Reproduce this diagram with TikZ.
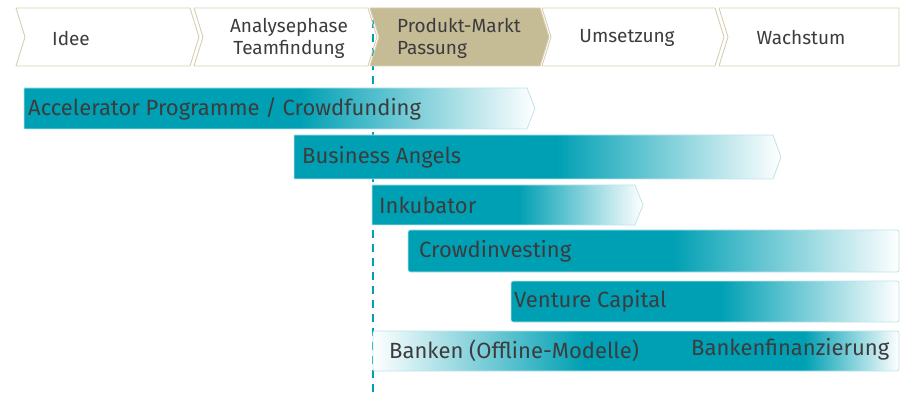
\documentclass[tikz,border=0pt]{standalone}
\usepackage{fontspec}
\setmainfont{Fira Sans}
\usetikzlibrary{positioning}
\definecolor{tealbar}{RGB}{0,160,180}
\definecolor{barrim}{RGB}{190,228,234}
\definecolor{phasefill}{RGB}{197,188,150}
\definecolor{phaserim}{RGB}{214,206,178}
\definecolor{textgray}{RGB}{60,60,62}
% teal first, then fading out to the right
\pgfdeclarehorizontalshading{fadeout}{100bp}{color(0bp)=(tealbar); color(52bp)=(tealbar); color(75bp)=(white); color(100bp)=(white)}
% bank row: in from white, teal, out to white
\pgfdeclarehorizontalshading{fadeinout}{100bp}{color(0bp)=(white); color(25bp)=(white); color(45bp)=(tealbar); color(66bp)=(tealbar); color(75bp)=(white); color(100bp)=(white)}

\begin{document}
\begin{tikzpicture}[x=1pt, y=-1pt]
	\tikzstyle{phase}=[draw=phaserim, line width=0.9pt, line join=round]
	\tikzstyle{phasetext}=[font=\fontsize{19}{22}\selectfont, text=textgray, align=center, inner sep=0pt]
	\tikzstyle{bartext}=[font=\fontsize{22}{26}\selectfont, text=textgray, anchor=west, inner sep=0pt]
	\tikzstyle{barline}=[draw=barrim, line width=0.8pt, line join=round]
	\tikzstyle{marker}=[draw=tealbar, line width=1.6pt, dash pattern=on 8pt off 6pt]
	\useasboundingbox (0,0) rectangle (902,398);
	% phase marker
	\coordinate (marktop) at (373,20);
	\coordinate (markbot) at (373,398);
	\draw [marker] (marktop) -- (markbot);
	% phases
	\foreach \l/\r in {16/190, 194/368, 542/715}
		\draw [phase] (\l,8) -- (\r,8) -- (\r+9,37) -- (\r,66) -- (\l,66) -- (\l+9,37) -- cycle;
	\draw [phase, fill=phasefill] (370,8) -- (540,8) -- (549,37) -- (540,66) -- (370,66) -- (379,37) -- cycle;
	\draw [phase] (719,8) -- (899,8) -- (899,66) -- (719,66) -- (728,37) -- cycle;
	\node [phasetext] (idee) at (71,38) {Idee};
	\node [phasetext] (analyse) at (289,38) {Analysephase\\Teamfindung};
	\node [phasetext, align=left, anchor=west] (pmf) at (397,38) {Produkt-Markt\\Passung};
	\node [phasetext] (umsetzung) at (627,38) {Umsetzung};
	\node [phasetext] (wachstum) at (801,38) {Wachstum};
	% bars with a tip
	\foreach \a/\r/\t/\b in {24/527/88/129, 294/773/135/179, 372/635/185/225}
		\draw [barline, shading=fadeout] (\a,\t) -- (\r,\t) -- (\r+8,{(\t+\b)/2}) -- (\r,\b) -- (\a,\b) -- cycle;
	% bars to the edge
	\foreach \a/\t/\b in {408/230/272, 511/281/322}
		\draw [barline, shading=fadeout, rounded corners=2pt] (\a,\t) rectangle (899,\b);
	% banks
	\draw [barline, shading=fadeinout, rounded corners=2pt] (373,331) rectangle (899,371);
	\node [bartext] (accel) at (28,108.5) {Accelerator Programme / Crowdfunding};
	\node [bartext] (angels) at (302,157) {Business Angels};
	\node [bartext] (inkub) at (379,205) {Inkubator};
	\node [bartext] (crowd) at (419,251) {Crowdinvesting};
	\node [bartext] (venture) at (514,301.5) {Venture Capital};
	\node [bartext] (offline) at (389,351) {Banken (Offline-Modelle)};
	\node [bartext] (bankfin) at (691,349) {Bankenfinanzierung};
\end{tikzpicture}
\end{document}
